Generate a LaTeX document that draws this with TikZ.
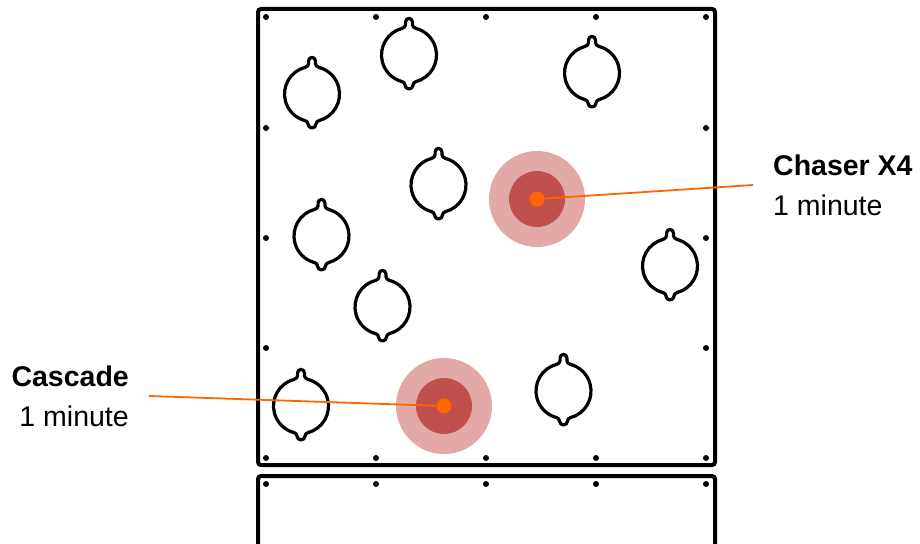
\documentclass[tikz,border=0pt]{standalone}
\usepackage{fontspec}
\setmainfont{Liberation Sans}
\usetikzlibrary{positioning}
\definecolor{ring}{HTML}{E2A9A8}
\definecolor{core}{HTML}{C0504D}
\definecolor{hit}{HTML}{FF6600}

\begin{document}
\begin{tikzpicture}
	[x=1pt,y=-1pt,
	panel/.style={line width=4pt,rounded corners=3pt},
	bolt/.style={shape=circle,fill=black,inner sep=0pt,minimum size=6pt},
	halo/.style={shape=circle,fill=ring,inner sep=0pt,minimum size=96pt},
	spot/.style={shape=circle,fill=core,inner sep=0pt,minimum size=56pt},
	hitdot/.style={shape=circle,fill=hit,inner sep=0pt,minimum size=15pt},
	lead/.style={draw=hit,line width=1.8pt},
	lbl/.style={inner sep=0pt,font=\fontsize{28.5}{40}\selectfont},
	keyhole/.pic={\draw[x=1pt,y=1pt,line width=3.2pt,line join=round]
		(7,26.6) to[out=165,in=-90] (3.4,30.5) -- (3.4,33.2)
		arc[start angle=0,end angle=180,radius=3.4] -- (-3.4,30.5)
		to[out=-90,in=15] (-7,26.6) arc[start angle=104.75,end angle=255.25,radius=27.5]
		to[out=-15,in=90] (-4,-30) arc[start angle=180,end angle=360,radius=4]
		to[out=90,in=195] (7,-26.6) arc[start angle=284.75,end angle=435.25,radius=27.5] -- cycle;}]
	\useasboundingbox (0,0) rectangle (920,543);
	
	% panels
	\draw[panel] (258,9) rectangle (715,465);
	\draw[panel] (258,560) -- (258,476) -- (715,476) -- (715,560);
	
	% bolts
	\foreach \x in {266,376,486,596,706}
	{
		\node[bolt] (t\x) at (\x,17) {};
		\node[bolt] (b\x) at (\x,458) {};
		\node[bolt] (n\x) at (\x,484) {};
	}
	\foreach \y in {128,238,348}
	{
		\node[bolt] (l\y) at (266,\y) {};
		\node[bolt] (r\y) at (706,\y) {};
	}
	
	% holes
	\foreach \x/\y in {312/94,409/55,592/73,438.5/185,321.5/236,382.5/307,670/266,301/406,563.5/391}
		\pic at (\x,\y) {keyhole};
	
	% targets
	\node[halo] (chaserhalo) at (537,199) {};
	\node[spot] (chaserspot) at (537,199) {};
	\node[halo] (cascadehalo) at (444,406) {};
	\node[spot] (cascadespot) at (444,406) {};
	
	\coordinate (chaserend) at (753,185);
	\coordinate (cascadeend) at (149,396);
	\node[lbl,align=left,right=20pt of chaserend] (chaserlbl) {\textbf{Chaser X4}\\1 minute};
	\node[lbl,align=right,left=20pt of cascadeend] (cascadelbl) {\textbf{Cascade}\\1 minute};
	
	\node[hitdot] (chaserdot) at (537,199) {};
	\node[hitdot] (cascadedot) at (444,406) {};
	\draw[lead] (chaserdot) -- (chaserend);
	\draw[lead] (cascadedot) -- (cascadeend);
\end{tikzpicture}
\end{document}
